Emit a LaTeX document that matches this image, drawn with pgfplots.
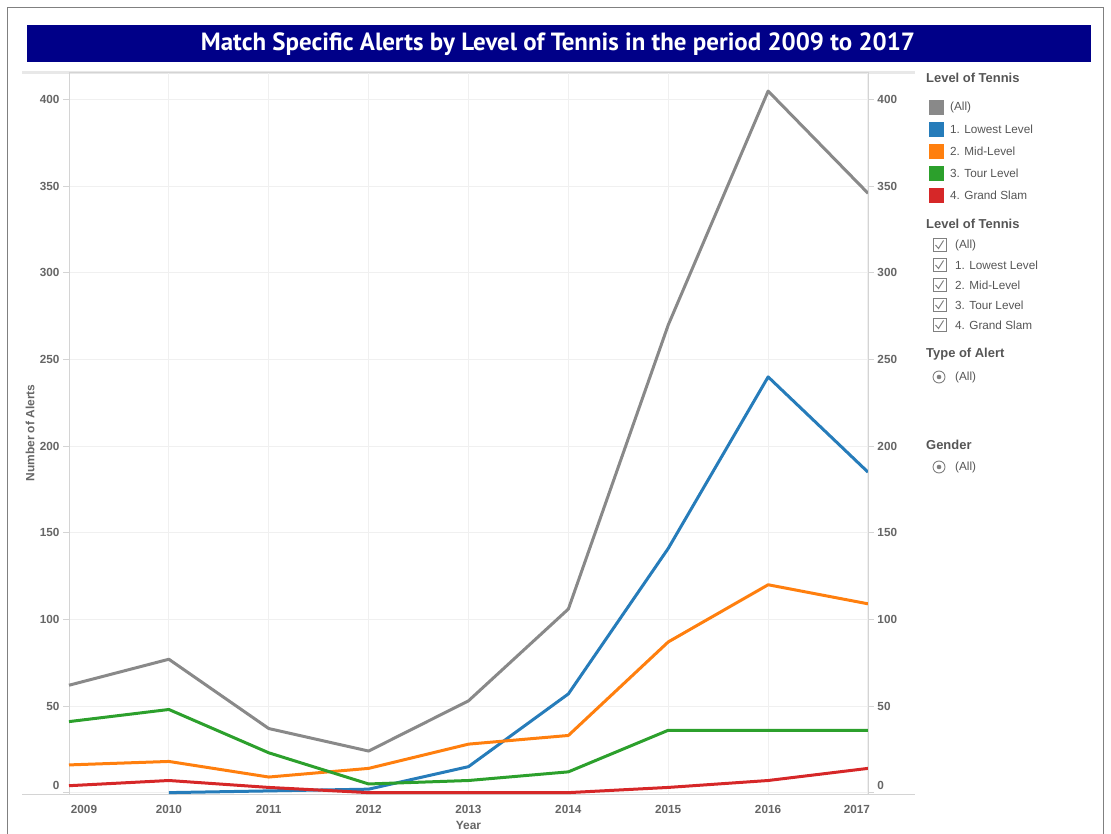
\documentclass[border=0pt]{standalone}
\usepackage{pgfplots}
\pgfplotsset{compat=1.18}
\usepackage{fontspec}
\setmainfont{Liberation Sans}
\newfontfamily\titlefont{PT Sans}

\definecolor{navy}{RGB}{0,0,136}
\definecolor{framegray}{RGB}{128,128,128}
\definecolor{paneline}{RGB}{232,232,232}
\definecolor{axisgray}{RGB}{212,212,212}
\definecolor{gridgray}{RGB}{240,240,240}
\definecolor{tickgray}{RGB}{102,102,102}
\definecolor{legtext}{RGB}{85,85,85}
\definecolor{cAll}{RGB}{137,137,137}
\definecolor{cLow}{RGB}{38,124,186}
\definecolor{cMid}{RGB}{255,127,14}
\definecolor{cTour}{RGB}{44,160,44}
\definecolor{cSlam}{RGB}{214,39,40}

\newcommand\tickfont{\bfseries\fontsize{11.8}{14}\selectfont}
\newcommand\legtitle{\bfseries\fontsize{13}{15}\selectfont}
\newcommand\legfont{\fontsize{11.8}{14}\selectfont}

\begin{document}
\begin{tikzpicture}
% frame, title banner, pane line
\begin{scope}[x=1bp,y=-1bp]
\path[use as bounding box] (0,0) rectangle (1111,834);
\draw[framegray, line width=1.2bp] (7.5,834) -- (7.5,7.5) -- (1103.5,7.5) -- (1103.5,834);
\fill[navy] (27,25) rectangle (1091,62);
\node[text=white, font=\titlefont\bfseries\fontsize{25}{29}\selectfont] at (558,44)
  {Match Specific Alerts by Level of Tennis in the period 2009 to 2017};
\draw[paneline, line width=3bp] (22,72) -- (915,72);
\draw[axisgray, line width=1bp] (22,794.5) -- (915,794.5);
\end{scope}

% main axis, left ticks
\begin{axis}[
  at={(69bp,-794bp)}, anchor=south west, scale only axis,
  width=799bp, height=722bp,
  xmin=2009, xmax=2017, ymin=-0.8, ymax=416,
  xtick={2009,...,2017},
  xticklabels={{\hspace*{30bp}2009},2010,2011,2012,2013,2014,2015,2016,{2017\hspace*{22bp}}},
  ytick={0,50,...,400},
  yticklabels={{\vphantom{0}\smash{\raisebox{7bp}{0}}},50,100,150,200,250,300,350,400},
  ytick pos=left,
  grid=major, major grid style={draw=gridgray, line width=1bp},
  axis line style={draw=axisgray, line width=1bp},
  tick align=outside, major tick length=6bp,
  xtick style={draw=none}, ytick style={draw=axisgray, line width=1bp},
  ticklabel style={font=\tickfont, text=tickgray},
  xticklabel style={yshift=-2bp},
  xlabel={Year}, ylabel={Number of Alerts},
  label style={font=\bfseries\fontsize{12}{14}\selectfont, text=tickgray},
  xlabel style={at={(axis description cs:0.5,0)}, anchor=center, yshift=-31bp},
  ylabel style={at={(axis description cs:0,0.5)}, anchor=center, yshift=39bp},
  clip=false,
  every axis plot/.append style={line width=3bp, line join=round},
]
\addplot[cAll] coordinates {(2009,62) (2010,77) (2011,37) (2012,24) (2013,53) (2014,106) (2015,270) (2016,405) (2017,346)};
\addplot[cLow] coordinates {(2010,0) (2011,1) (2012,2) (2013,15) (2014,57) (2015,141) (2016,240) (2017,185)};
\addplot[cMid] coordinates {(2009,16) (2010,18) (2011,9) (2012,14) (2013,28) (2014,33) (2015,87) (2016,120) (2017,109)};
\addplot[cTour] coordinates {(2009,41) (2010,48) (2011,23) (2012,5) (2013,7) (2014,12) (2015,36) (2016,36) (2017,36)};
\addplot[cSlam] coordinates {(2009,4) (2010,7) (2011,3) (2012,0) (2013,0) (2014,0) (2015,3) (2016,7) (2017,14)};
\end{axis}

% right axis
\begin{axis}[
  at={(69bp,-794bp)}, anchor=south west, scale only axis,
  width=799bp, height=722bp,
  xmin=2009, xmax=2017, ymin=-0.8, ymax=416,
  axis x line=none, axis y line*=right,
  ytick={0,50,...,400},
  yticklabels={{\vphantom{0}\smash{\raisebox{7bp}{0}}},50,100,150,200,250,300,350,400},
  axis line style={draw=axisgray, line width=1bp},
  tick align=outside, major tick length=6bp,
  ytick style={draw=axisgray, line width=1bp},
  ticklabel style={font=\tickfont, text=tickgray},
]
\end{axis}

% legend and filter panel
\begin{scope}[x=1bp,y=-1bp, every node/.style={inner sep=0pt, anchor=west, text=legtext}]
\node[font=\legtitle] at (926,78) {Level of Tennis};
\foreach \c/\t [count=\i from 0] in {cAll/(All), cLow/1. Lowest Level, cMid/2. Mid-Level, cTour/3. Tour Level, cSlam/4. Grand Slam} {
  \fill[\c] (929,{99.5+22*\i}) rectangle (944,{114.5+22*\i});
  \node[font=\legfont] at (950,{107+22*\i}) {\t};
}
\node[font=\legtitle] at (926,224) {Level of Tennis};
\foreach \t [count=\i from 0] in {(All), 1. Lowest Level, 2. Mid-Level, 3. Tour Level, 4. Grand Slam} {
  \draw[framegray, line width=1bp] (933,{238.5+20*\i}) rectangle (946,{251.5+20*\i});
  \draw[framegray, line width=1bp] (935.5,{245+20*\i}) -- (938.5,{248.5+20*\i}) -- (943.5,{240.5+20*\i});
  \node[font=\legfont] at (955,{245+20*\i}) {\t};
}
\node[font=\legtitle] at (926,354) {Type of Alert};
\draw[framegray, line width=0.9bp] (939,377) circle (6);
\fill[framegray] (939,377) circle (2.3);
\node[font=\legfont] at (955,377) {(All)};
\node[font=\legtitle] at (926,445) {Gender};
\draw[framegray, line width=0.9bp] (939,467) circle (6);
\fill[framegray] (939,467) circle (2.3);
\node[font=\legfont] at (955,467) {(All)};
\end{scope}
\end{tikzpicture}
\end{document}
